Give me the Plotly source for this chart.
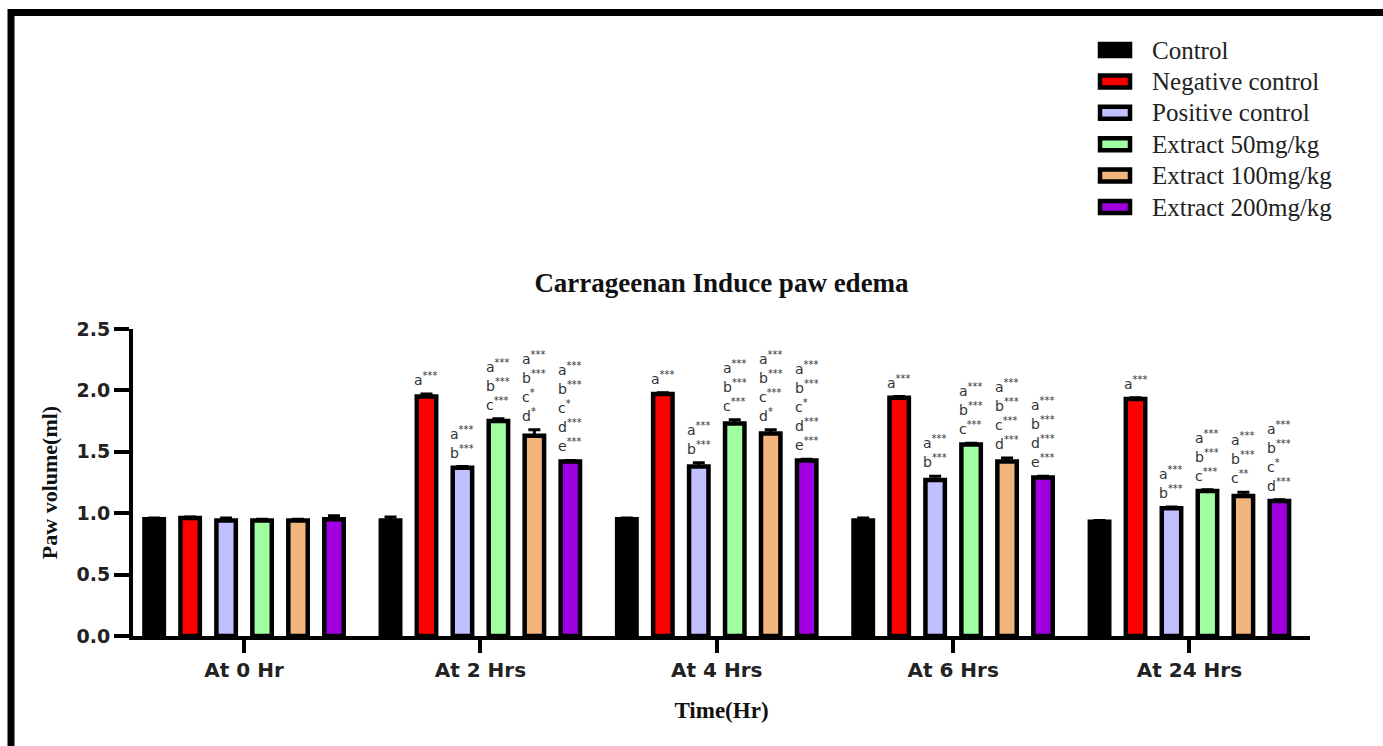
import plotly.graph_objects as go

# ---------------- data ----------------
time_points = ["At 0 Hr", "At 2 Hrs", "At 4 Hrs", "At 6 Hrs", "At 24 Hrs"]
series_names = ["Control", "Negative control", "Positive control",
                "Extract 50mg/kg", "Extract 100mg/kg", "Extract 200mg/kg"]
series_colors = ["#000000", "#FF0000", "#C0C0FF", "#A0FFA0", "#F2B57D", "#A000E0"]

control      = [0.95, 0.94, 0.95, 0.94, 0.93]
negative     = [0.96, 1.95, 1.97, 1.94, 1.93]
positive     = [0.94, 1.37, 1.38, 1.27, 1.04]
extract_50   = [0.94, 1.75, 1.73, 1.56, 1.18]
extract_100  = [0.94, 1.63, 1.65, 1.42, 1.14]
extract_200  = [0.95, 1.42, 1.43, 1.29, 1.10]

control_err     = [0.01, 0.03, 0.01, 0.02, 0.01]
negative_err    = [0.01, 0.02, 0.01, 0.01, 0.01]
positive_err    = [0.02, 0.01, 0.03, 0.03, 0.01]
extract_50_err  = [0.01, 0.02, 0.03, 0.01, 0.01]
extract_100_err = [0.01, 0.05, 0.03, 0.03, 0.03]
extract_200_err = [0.03, 0.01, 0.01, 0.01, 0.01]

# significance labels per series, per time point (top line first)
control_sig     = [[], [], [], [], []]
negative_sig    = [[], ["a***"], ["a***"], ["a***"], ["a***"]]
positive_sig    = [[], ["a***", "b***"], ["a***", "b***"], ["a***", "b***"], ["a***", "b***"]]
extract_50_sig  = [[], ["a***", "b***", "c***"], ["a***", "b***", "c***"],
                   ["a***", "b***", "c***"], ["a***", "b***", "c***"]]
extract_100_sig = [[], ["a***", "b***", "c*", "d*"], ["a***", "b***", "c***", "d*"],
                   ["a***", "b***", "c***", "d***"], ["a***", "b***", "c**"]]
extract_200_sig = [[], ["a***", "b***", "c*", "d***", "e***"], ["a***", "b***", "c*", "d***", "e***"],
                   ["a***", "b***", "d***", "e***"], ["a***", "b***", "c*", "d***"]]

title_text = "Carrageenan Induce paw edema"
y_title = "Paw volume(ml)"
x_title = "Time(Hr)"
y_ticks = [0.0, 0.5, 1.0, 1.5, 2.0, 2.5]

values = [control, negative, positive, extract_50, extract_100, extract_200]
errors = [control_err, negative_err, positive_err, extract_50_err, extract_100_err, extract_200_err]
sigs = [control_sig, negative_sig, positive_sig, extract_50_sig, extract_100_sig, extract_200_sig]

# ---------------- layout params ----------------
W, H = 1383, 746
ML, MR, MT, MB = 133, 73, 329, 110
PW, PH = W - ML - MR, H - MT - MB
BARGAP = 0.087
BARGROUPGAP = 0.46
n_series = len(series_names)

fig = go.Figure()
for name, col, vals, errs in zip(series_names, series_colors, values, errors):
    fig.add_trace(go.Bar(
        x=list(range(len(time_points))), y=vals, name=name,
        marker=dict(color=col, line=dict(color="black", width=4.5)),
        error_y=dict(type="data", array=errs, arrayminus=[0] * len(errs), symmetric=False,
                     color="black", thickness=3, width=6),
        showlegend=False,
    ))

# significance annotations
slot = (1 - BARGAP) / n_series
annotations = []
for si in range(n_series):
    for g in range(len(time_points)):
        labels = sigs[si][g]
        if not labels:
            continue
        xc = g + (si - (n_series - 1) / 2) * slot
        ytop = values[si][g] + errors[si][g]
        n = len(labels)
        for k, lab in enumerate(labels):
            letter = lab[0]
            stars = lab[1:]
            annotations.append(dict(
                x=xc, y=ytop, xref="x", yref="y",
                text=f"{letter}<sup>{stars}</sup>",
                showarrow=False, xanchor="left", yanchor="middle",
                xshift=-14, yshift=15 + 19 * (n - 1 - k),
                font=dict(family="DejaVu Sans", size=14, color="#333333"),
            ))

# manual legend (wide rectangles like the original)
shapes = []
def px_to_paper_x(px):
    return (px - ML) / PW
def px_to_paper_y(py):
    return (MT + PH - py) / PH

for i, (name, col) in enumerate(zip(series_names, series_colors)):
    cy = 50 + 31.4 * i
    shapes.append(dict(type="rect", xref="paper", yref="paper",
                       x0=px_to_paper_x(1100), x1=px_to_paper_x(1130),
                       y0=px_to_paper_y(cy + 6), y1=px_to_paper_y(cy - 6),
                       fillcolor=col, line=dict(color="black", width=4.5), layer="above"))
    annotations.append(dict(
        x=px_to_paper_x(1150), y=px_to_paper_y(cy), xref="paper", yref="paper",
        text=name, showarrow=False, xanchor="left", yanchor="middle",
        font=dict(family="Liberation Serif", size=25, color="#222222"),
    ))

# outer frame (left and top black border)
shapes.append(dict(type="line", xref="paper", yref="paper",
                   x0=px_to_paper_x(11), x1=px_to_paper_x(11),
                   y0=px_to_paper_y(9), y1=px_to_paper_y(760),
                   line=dict(color="black", width=7), layer="above"))
shapes.append(dict(type="line", xref="paper", yref="paper",
                   x0=px_to_paper_x(8), x1=px_to_paper_x(1400),
                   y0=px_to_paper_y(12.5), y1=px_to_paper_y(12.5),
                   line=dict(color="black", width=7), layer="above"))

fig.update_layout(
    width=W, height=H,
    margin=dict(l=ML, r=MR, t=MT, b=MB, autoexpand=False),
    barmode="group", bargap=BARGAP, bargroupgap=BARGROUPGAP,
    plot_bgcolor="white", paper_bgcolor="white",
    title=dict(text=f"<b>{title_text}</b>", x=0.5, xref="paper", xanchor="center",
               y=1 - 283 / H, yref="container", yanchor="middle",
               font=dict(family="Liberation Serif", size=27, color="#111111")),
    xaxis=dict(
        tickmode="array", tickvals=list(range(len(time_points))), ticktext=time_points,
        range=[-0.47, 4.51], showgrid=False, zeroline=False,
        showline=True, linecolor="black", linewidth=4,
        ticks="outside", ticklen=13, tickwidth=3.5, tickcolor="black",
        tickfont=dict(family="DejaVu Sans", size=20, color="#222222", weight="bold"),
        title=dict(text=f"<b>{x_title}</b>", standoff=22,
                   font=dict(family="Liberation Serif", size=23, color="#111111")),
    ),
    yaxis=dict(
        range=[0, 2.5], tickvals=y_ticks, tickformat=".1f",
        showgrid=False, zeroline=False,
        showline=True, linecolor="black", linewidth=4,
        ticks="outside", ticklen=15, tickwidth=3.5, tickcolor="black",
        tickfont=dict(family="DejaVu Sans", size=19, color="#222222", weight="bold"),
        title=dict(text=f"<b>{y_title}</b>", standoff=14,
                   font=dict(family="Liberation Serif", size=22, color="#111111")),
    ),
    annotations=annotations,
    shapes=shapes,
)

fig.write_html("out.html")
